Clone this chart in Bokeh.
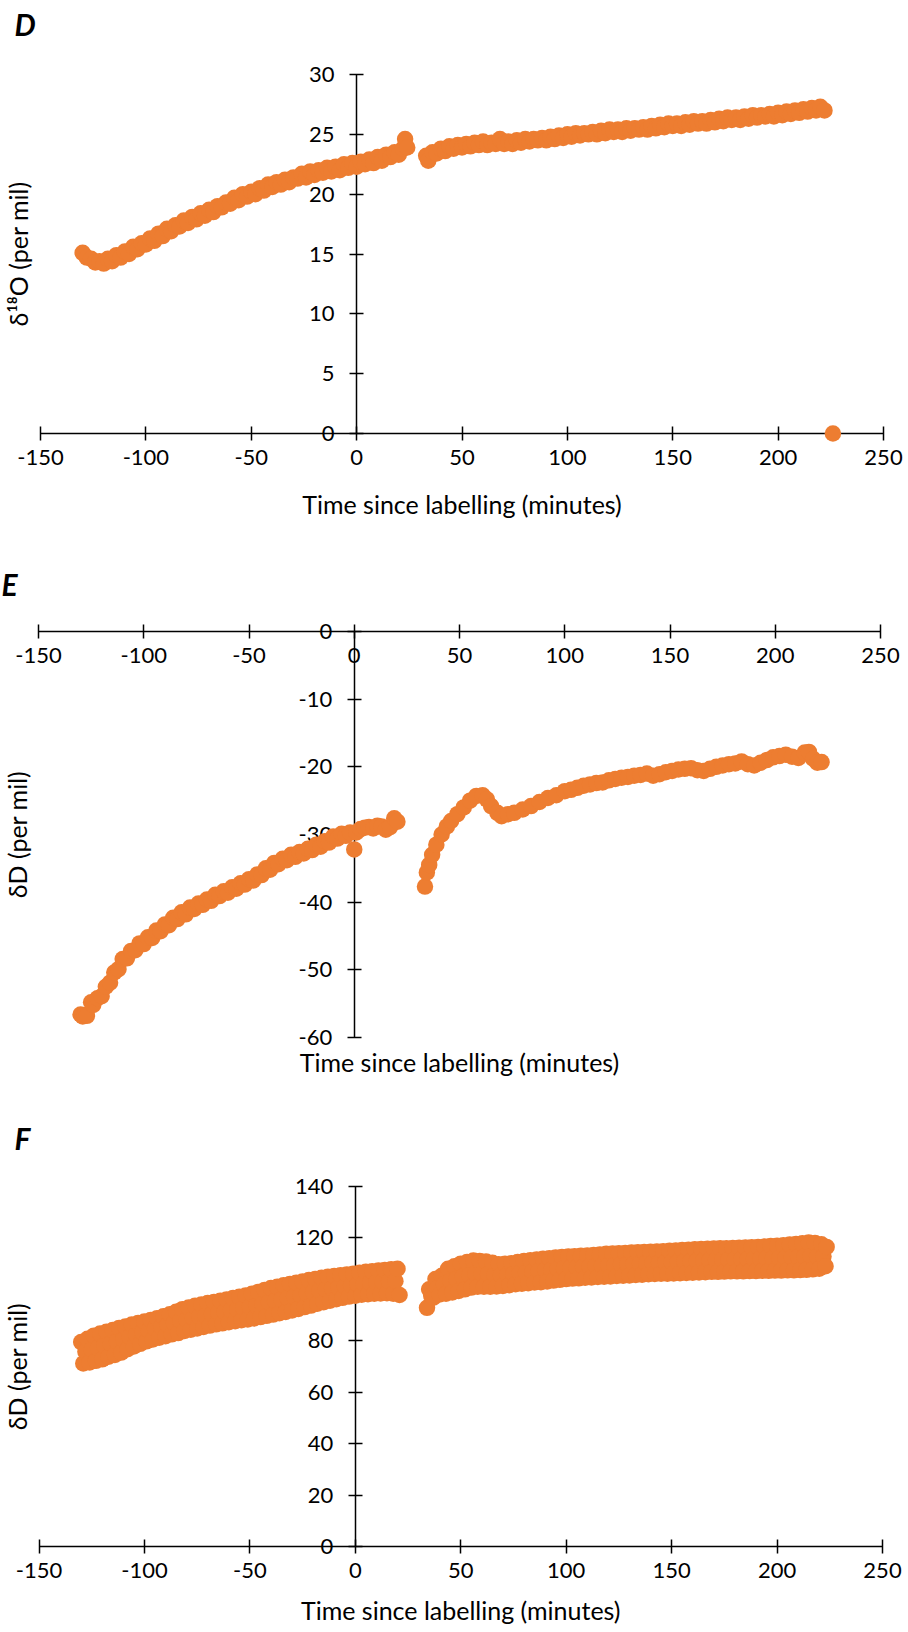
import math
from bokeh.plotting import figure
from bokeh.models import Range1d, LinearAxis, FixedTicker, Label
from bokeh.layouts import column
from bokeh.embed import file_html
from bokeh.resources import INLINE

ORANGE = "#ED7D31"
FONT = "Lato"

X_TICKS = [-150, -100, -50, 0, 50, 100, 150, 200, 250]
D_Y_TICKS = [0, 5, 10, 15, 20, 25, 30]
E_Y_TICKS = [-60, -50, -40, -30, -20, -10, 0]
F_Y_TICKS = [0, 20, 40, 60, 80, 100, 120, 140]

X_TITLE = "Time since labelling (minutes)"
D_Y_TITLE = "δ¹⁸O (per mil)"
E_Y_TITLE = "δD (per mil)"
F_Y_TITLE = "δD (per mil)"

# ---------------- Panel D : delta 18O ----------------
d_time = [-130, -128, -126, -124, -122, -120, -118, -116, -114, -112,
          -110, -108, -106, -104, -102, -100, -98, -96, -94, -92,
          -90, -88, -86, -84, -82, -80, -78, -76, -74, -72,
          -70, -68, -66, -64, -62, -60, -58, -56, -54, -52,
          -50, -48, -46, -44, -42, -40, -38, -36, -34, -32,
          -30, -28, -26, -24, -22, -20, -18, -16, -14, -12,
          -10, -8, -6, -4, -2, 0, 2, 4, 6, 8,
          10, 12, 14, 16, 18, 20, 22, 23, 24,
          33, 34, 36, 38, 40, 42, 44, 46, 48, 50,
          52, 54, 56, 58, 60, 62, 64, 66, 68, 70,
          72, 74, 76, 78, 80, 82, 84, 86, 88, 90,
          92, 94, 96, 98, 100, 102, 104, 106, 108, 110,
          112, 114, 116, 118, 120, 122, 124, 126, 128, 130,
          132, 134, 136, 138, 140, 142, 144, 146, 148, 150,
          152, 154, 156, 158, 160, 162, 164, 166, 168, 170,
          172, 174, 176, 178, 180, 182, 184, 186, 188, 190,
          192, 194, 196, 198, 200, 202, 204, 206, 208, 210,
          212, 214, 216, 218, 220, 222,
          226]
d_value = [15.1, 14.7, 14.6, 14.3, 14.4, 14.2, 14.6, 14.4, 14.9, 14.7,
           15.2, 15.0, 15.6, 15.4, 15.9, 15.8, 16.3, 16.1, 16.7, 16.5,
           17.1, 16.9, 17.4, 17.3, 17.8, 17.6, 18.1, 17.9, 18.4, 18.2,
           18.7, 18.5, 19.0, 18.9, 19.3, 19.2, 19.7, 19.5, 20.0, 19.8,
           20.2, 20.0, 20.5, 20.3, 20.8, 20.6, 21.0, 20.8, 21.2, 21.0,
           21.4, 21.3, 21.7, 21.4, 21.9, 21.6, 22.0, 21.8, 22.2, 21.9,
           22.3, 22.0, 22.5, 22.2, 22.6, 22.3, 22.7, 22.5, 22.9, 22.6,
           23.1, 22.8, 23.3, 23.1, 23.5, 23.3, 23.8, 24.6, 23.9,
           23.2, 22.8, 23.5, 23.4, 23.8, 23.6, 24.0, 23.8, 24.1, 23.9,
           24.2, 24.0, 24.3, 24.1, 24.4, 24.1, 24.3, 24.2, 24.6, 24.2,
           24.4, 24.2, 24.5, 24.3, 24.6, 24.4, 24.6, 24.5, 24.7, 24.5,
           24.8, 24.6, 24.9, 24.7, 25.0, 24.8, 25.1, 24.9, 25.1, 25.0,
           25.2, 25.0, 25.3, 25.1, 25.4, 25.2, 25.4, 25.2, 25.5, 25.3,
           25.5, 25.4, 25.6, 25.4, 25.7, 25.5, 25.8, 25.6, 25.9, 25.7,
           25.9, 25.7, 26.0, 25.8, 26.1, 25.9, 26.1, 25.9, 26.2, 26.0,
           26.3, 26.1, 26.4, 26.2, 26.4, 26.2, 26.5, 26.3, 26.6, 26.4,
           26.6, 26.5, 26.7, 26.5, 26.8, 26.6, 26.9, 26.7, 27.0, 26.8,
           27.1, 26.9, 27.2, 27.0, 27.3, 27.0,
           0.0]

# ---------------- Panel E : delta D ----------------
e_time = [-130, -129, -128, -127, -125, -124, -122, -120, -118, -116,
          -114, -112, -110, -108, -106, -104, -102, -100, -98, -96,
          -94, -92, -90, -88, -86, -84, -82, -80, -78, -76,
          -74, -72, -70, -68, -66, -64, -62, -60, -58, -56,
          -54, -52, -50, -48, -46, -44, -42, -40, -38, -36,
          -34, -32, -30, -28, -26, -24, -22, -20, -18, -16,
          -14, -12, -10, -8, -6, -4, -2, 0, 1, 3,
          5, 7, 9, 11, 13, 15, 17, 19, 20.5,
          33.6, 34.5, 35.6, 37, 39, 41.5, 44, 46, 49, 52,
          55, 58, 61, 63, 65, 68, 70, 73, 76, 80,
          84, 88, 92, 96, 100, 103, 106, 109, 112, 115,
          118, 121, 124, 127, 130, 133, 136, 139, 142, 145,
          148, 151, 154, 157, 160, 163, 166, 169, 172, 175,
          178, 181, 184, 187, 190, 193, 196, 199, 202, 205,
          208, 211, 214, 216, 218, 220, 222]
e_value = [-56.6, -56.9, -56.7, -56.8, -54.8, -55.2, -54.2, -53.9, -52.5, -51.9,
           -50.4, -49.9, -48.4, -48.3, -47.2, -47.1, -46.1, -46.2, -45.2, -45.3,
           -44.2, -44.3, -43.3, -43.4, -42.3, -42.5, -41.5, -41.8, -40.8, -41.0,
           -40.2, -40.4, -39.6, -39.8, -38.9, -39.1, -38.4, -38.6, -37.8, -38.0,
           -37.2, -37.4, -36.6, -36.8, -35.9, -36.0, -35.0, -35.2, -34.2, -34.4,
           -33.6, -33.8, -33.0, -33.3, -32.6, -32.8, -32.1, -32.3, -31.5, -31.8,
           -31.0, -31.2, -30.3, -30.6, -29.9, -30.2, -29.7, -32.2, -29.7, -29.2,
           -29.0, -28.9, -29.1, -28.7, -28.8, -29.3, -28.9, -27.6, -28.1,
           -37.7, -35.6, -34.5, -33.0, -31.5, -30.0, -28.8, -28.0, -27.0, -26.0,
           -25.0, -24.3, -24.2, -24.8, -25.8, -26.8, -27.3, -27.0, -26.8, -26.3,
           -25.8, -25.2, -24.6, -24.2, -23.6, -23.4, -23.1, -22.8, -22.6, -22.4,
           -22.3, -22.0, -21.8, -21.6, -21.5, -21.3, -21.2, -21.0, -21.3, -21.1,
           -20.8, -20.6, -20.4, -20.3, -20.2, -20.5, -20.6, -20.3, -20.0, -19.8,
           -19.6, -19.5, -19.2, -19.6, -19.8, -19.4, -19.0, -18.6, -18.4, -18.2,
           -18.5, -18.7, -17.9, -17.8, -18.8, -19.4, -19.3]

# ---------------- Panel F : delta D ----------------
f_time = [-130, -129, -128, -127, -126, -125, -124, -123, -122, -121,
          -120, -119, -118, -117, -116, -115, -114, -113, -112, -111,
          -110, -109, -108, -107, -106, -105, -104, -103, -102, -101,
          -100, -99, -98, -97, -96, -95, -94, -93, -92, -91,
          -90, -89, -88, -87, -86, -85, -84, -83, -82, -81,
          -80, -79, -78, -77, -76, -75, -74, -73, -72, -71,
          -70, -69, -68, -67, -66, -65, -64, -63, -62, -61,
          -60, -59, -58, -57, -56, -55, -54, -53, -52, -51,
          -50, -49, -48, -47, -46, -45, -44, -43, -42, -41,
          -40, -39, -38, -37, -36, -35, -34, -33, -32, -31,
          -30, -29, -28, -27, -26, -25, -24, -23, -22, -21,
          -20, -19, -18, -17, -16, -15, -14, -13, -12, -11,
          -10, -9, -8, -7, -6, -5, -4, -3, -2, -1,
          0, 1, 2, 3, 4, 5, 6, 7, 8, 9,
          10, 11, 12, 13, 14, 15, 16, 17, 18, 19,
          20, 21,
          34, 35, 36, 37, 38, 39, 40, 41, 42, 43,
          44, 45, 46, 47, 48, 49, 50, 51, 52, 53,
          54, 55, 56, 57, 58, 59, 60, 61, 62, 63,
          64, 65, 66, 67, 68, 69, 70, 71, 72, 73,
          74, 75, 76, 77, 78, 79, 80, 81, 82, 83,
          84, 85, 86, 87, 88, 89, 90, 91, 92, 93,
          94, 95, 96, 97, 98, 99, 100, 101, 102, 103,
          104, 105, 106, 107, 108, 109, 110, 111, 112, 113,
          114, 115, 116, 117, 118, 119, 120, 121, 122, 123,
          124, 125, 126, 127, 128, 129, 130, 131, 132, 133,
          134, 135, 136, 137, 138, 139, 140, 141, 142, 143,
          144, 145, 146, 147, 148, 149, 150, 151, 152, 153,
          154, 155, 156, 157, 158, 159, 160, 161, 162, 163,
          164, 165, 166, 167, 168, 169, 170, 171, 172, 173,
          174, 175, 176, 177, 178, 179, 180, 181, 182, 183,
          184, 185, 186, 187, 188, 189, 190, 191, 192, 193,
          194, 195, 196, 197, 198, 199, 200, 201, 202, 203,
          204, 205, 206, 207, 208, 209, 210, 211, 212, 213,
          214, 215, 216, 217, 218, 219, 220, 221, 222, 223,
          223.5]
f_value = [79.5, 71.2, 75.8, 80.8, 71.6, 76.6, 82.0, 72.2, 77.2, 82.8,
           72.8, 78.2, 83.5, 73.8, 78.9, 84.2, 74.5, 79.8, 85.0, 75.4,
           80.6, 85.6, 76.7, 81.6, 86.3, 77.8, 82.4, 86.9, 78.8, 83.4,
           87.5, 79.8, 84.0, 88.1, 80.5, 84.8, 88.8, 81.2, 85.5, 89.5,
           81.8, 86.2, 90.3, 82.5, 87.0, 91.3, 83.0, 87.8, 92.3, 83.8,
           88.2, 92.9, 84.3, 88.8, 93.6, 84.8, 89.3, 94.1, 85.4, 89.8,
           94.7, 85.9, 90.4, 95.1, 86.4, 90.9, 95.6, 86.8, 91.3, 96.1,
           87.2, 91.9, 96.6, 87.6, 92.2, 97.1, 88.0, 92.7, 97.6, 88.3,
           93.2, 98.3, 88.7, 93.8, 99.0, 89.2, 94.3, 99.8, 89.7, 95.0,
           100.5, 90.2, 95.5, 101.0, 90.7, 96.1, 101.6, 91.2, 96.6, 102.1,
           91.8, 97.2, 102.6, 92.4, 97.7, 103.1, 93.1, 98.4, 103.6, 93.7,
           98.9, 104.0, 94.4, 99.5, 104.5, 95.0, 100.0, 104.9, 95.6, 100.4,
           105.2, 96.2, 100.8, 105.5, 96.7, 101.2, 105.8, 97.2, 101.6, 106.1,
           97.5, 102.0, 106.5, 97.9, 102.3, 106.8, 98.1, 102.6, 107.0, 98.3,
           102.8, 107.3, 98.4, 103.0, 107.5, 98.5, 103.1, 107.8, 98.3, 103.2,
           108.0, 97.8,
           92.8, 100.0, 97.5, 96.8, 104.0, 100.5, 98.0, 105.3, 101.8, 98.3,
           108.0, 103.2, 98.8, 109.0, 104.0, 99.4, 110.0, 104.9, 100.0, 110.6,
           105.5, 100.7, 111.2, 106.1, 101.0, 111.0, 106.0, 101.0, 110.8, 105.9,
           101.0, 110.3, 105.6, 101.1, 109.8, 105.5, 101.3, 110.0, 105.7, 101.6,
           110.2, 106.0, 102.0, 110.6, 106.3, 102.2, 111.0, 106.6, 102.4, 111.3,
           106.9, 102.7, 111.6, 107.2, 102.8, 111.9, 107.5, 103.1, 112.1, 107.7,
           103.4, 112.4, 108.0, 103.7, 112.6, 108.3, 104.0, 112.8, 108.4, 104.2,
           112.9, 108.6, 104.3, 113.1, 108.8, 104.5, 113.2, 108.9, 104.6, 113.4,
           109.1, 104.8, 113.6, 109.2, 104.9, 113.8, 109.4, 105.0, 113.9, 109.5,
           105.2, 114.0, 109.7, 105.3, 114.1, 109.8, 105.4, 114.3, 109.9, 105.6,
           114.4, 110.0, 105.7, 114.5, 110.2, 105.9, 114.6, 110.3, 106.0, 114.7,
           110.4, 106.1, 114.8, 110.5, 106.1, 115.0, 110.6, 106.2, 115.1, 110.7,
           106.3, 115.3, 110.9, 106.4, 115.4, 111.0, 106.5, 115.6, 111.1, 106.6,
           115.7, 111.2, 106.7, 115.8, 111.3, 106.8, 115.9, 111.4, 106.8, 116.0,
           111.5, 106.9, 116.0, 111.5, 107.0, 116.1, 111.6, 107.0, 116.2, 111.7,
           107.0, 116.3, 111.7, 107.1, 116.4, 111.8, 107.1, 116.5, 111.9, 107.2,
           116.7, 112.0, 107.2, 116.9, 112.1, 107.3, 117.0, 112.2, 107.3, 117.2,
           112.4, 107.4, 117.4, 112.5, 107.4, 117.6, 112.6, 107.5, 117.9, 112.8,
           107.6, 118.2, 113.0, 107.8, 118.0, 112.8, 108.0, 117.5, 112.8, 109.0,
           116.5]


def pixel_range(v0, p0, v1, p1, total):
    """Range whose value v0 falls at pixel p0 and v1 at pixel p1 (pixels from
    the left / bottom edge of a frame that is `total` pixels long)."""
    scale = (v1 - v0) / (p1 - p0)
    return Range1d(v0 - p0 * scale, v0 + (total - p0) * scale)


def style_value_axis(ax, ticks, bounds, standoff):
    ax.bounds = bounds
    ax.axis_line_color = "black"
    ax.axis_line_width = 1.5
    ax.major_tick_line_color = "black"
    ax.major_tick_line_width = 1.5
    ax.major_tick_in = 7
    ax.major_tick_out = 7
    ax.minor_tick_line_color = None
    ax.minor_tick_in = 0
    ax.minor_tick_out = 0
    ax.major_label_text_font = FONT
    ax.major_label_text_font_size = "22px"
    ax.major_label_text_color = "black"
    ax.major_label_standoff = standoff
    ax.major_label_overrides = {t: str(t) for t in ticks}


def make_panel(height, y_lo, y_hi, y_ticks, px, letter, letter_xy,
               y_title, y_title_x, x_title_y, xs, ys):
    # px = (x of -150, x of 250, y of y_lo from bottom, y of y_hi from bottom)
    x0, x1, yb, yt = px
    p = figure(width=908, height=height,
               x_range=pixel_range(-150, x0, 250, x1, 908),
               y_range=pixel_range(y_lo, yb, y_hi, yt, height),
               x_axis_location=None, y_axis_location=None,
               output_backend="svg", toolbar_location=None,
               min_border_left=0, min_border_right=0,
               min_border_top=0, min_border_bottom=0)
    p.outline_line_color = None
    p.background_fill_color = "white"
    p.border_fill_color = "white"
    for g in p.grid:
        g.visible = False

    xa = LinearAxis(fixed_location=0, ticker=FixedTicker(ticks=X_TICKS))
    style_value_axis(xa, X_TICKS, (X_TICKS[0], X_TICKS[-1]), 9)
    p.add_layout(xa, "below")
    ya = LinearAxis(fixed_location=0, ticker=FixedTicker(ticks=y_ticks))
    style_value_axis(ya, y_ticks, (y_lo, y_hi), 15)
    p.add_layout(ya, "left")

    p.scatter(x=xs, y=ys, size=16.5, fill_color=ORANGE, line_color=None,
              level="overlay")

    p.add_layout(Label(x=letter_xy[0], y=letter_xy[1], x_units="screen",
                       y_units="screen", text=letter, text_font=FONT,
                       text_font_style="bold italic", text_font_size="30px",
                       text_color="black", text_baseline="alphabetic",
                       text_align="left"))
    p.add_layout(Label(x=(X_TICKS[0] + X_TICKS[-1]) / 2, y=x_title_y,
                       x_units="data", y_units="screen", text=X_TITLE,
                       text_font=FONT, text_font_size="25px", text_color="black",
                       text_align="center", text_baseline="middle"))
    p.add_layout(Label(x=y_title_x, y=(y_lo + y_hi) / 2, x_units="screen",
                       y_units="data", text=y_title, angle=math.pi / 2,
                       text_font=FONT, text_font_size="25px", text_color="black",
                       text_align="center", text_baseline="middle"))
    return p


pD = make_panel(540, 0, 30, D_Y_TICKS, (40, 883, 107, 466), "D", (14, 517),
                D_Y_TITLE, 17, 37, d_time, d_value)
pE = make_panel(545, -60, 0, E_Y_TICKS, (38, 880, 48, 454), "E", (1, 502),
                E_Y_TITLE, 16, 24, e_time, e_value)
pF = make_panel(547, 0, 140, F_Y_TICKS, (38.5, 882, 86, 446), "F", (14, 495),
                F_Y_TITLE, 16, 23, f_time, f_value)

layout = column(pD, pE, pF)
open("out.html", "w").write(file_html(layout, INLINE))
